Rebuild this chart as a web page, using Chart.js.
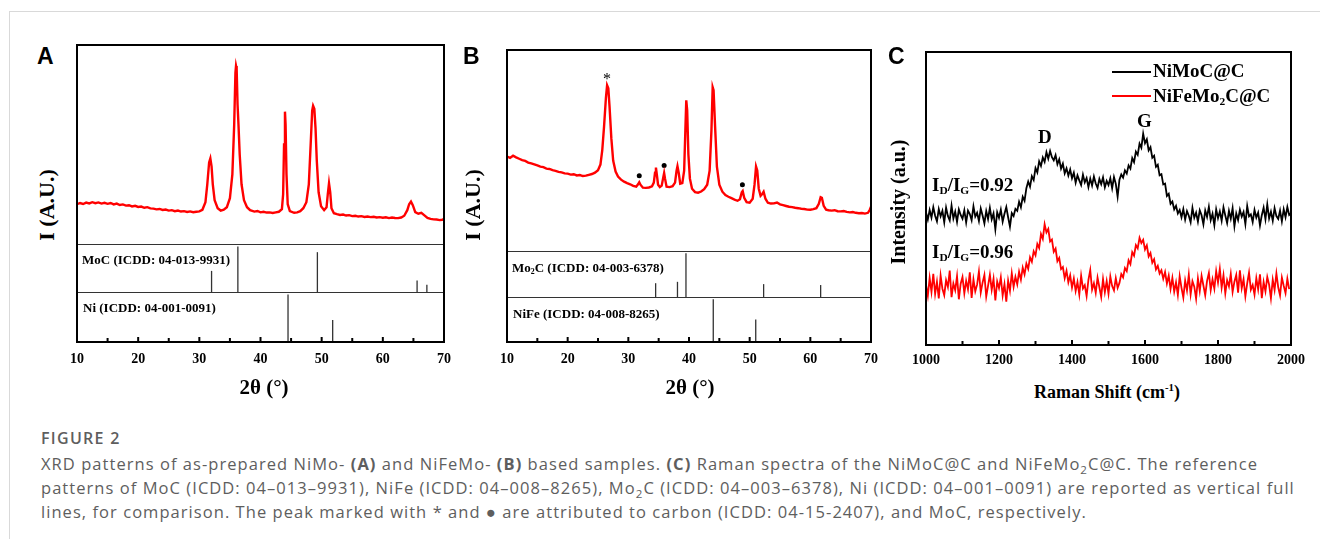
<!DOCTYPE html>
<html>
<head>
<meta charset="utf-8">
<script src="https://cdn.jsdelivr.net/npm/chart.js@4.4.0/dist/chart.umd.min.js"></script>
<style>
  body { margin: 0; background: #fff; }
  #page { position: relative; width: 1320px; height: 539px; overflow: hidden; background: #fff; }
  #page canvas { position: absolute; }
  .frameTop { position: absolute; left: 10px; top: 11px; width: 1310px; height: 1px; background: #d9d9d9; }
  .frameLeft { position: absolute; left: 9px; top: 11px; width: 1px; height: 528px; background: #d9d9d9; }
  .t { position: absolute; white-space: nowrap; line-height: 1; font-family: "Liberation Serif", "Times New Roman", serif; font-weight: bold; color: #000; }
  .letter { position: absolute; line-height: 1; font-family: "Liberation Sans", Arial, sans-serif; font-weight: bold; font-size: 23px; }
  .cx { transform: translateX(-50%); }
  .rot { transform: translate(-50%, -50%) rotate(-90deg); }
  .t sub { font-size: 0.6em; vertical-align: -0.3em; line-height: 0; }
  .legline { position: absolute; height: 2px; width: 39px; }
  #caption { position: absolute; left: 41px; top: 428px; font-family: "Open Sans", sans-serif; color: #5e5e5e; }
  #caption .head { font-size: 16px; font-weight: 600; letter-spacing: 1.3px; line-height: 20px; }
  #caption .body { font-size: 16.5px; letter-spacing: 1.05px; line-height: 24px; margin-top: 4px; white-space: nowrap; }
  #caption sub { font-size: 0.7em; line-height: 0; }
</style>
</head>
<body>
<div id="page">
  <div class="frameTop"></div>
  <div class="frameLeft"></div>

  <canvas id="chartA" width="400" height="340" style="left:60px;top:40px"></canvas>
  <canvas id="chartB" width="430" height="340" style="left:450px;top:40px"></canvas>
  <canvas id="chartC" width="440" height="340" style="left:880px;top:40px"></canvas>

  <!-- panel A texts -->
  <div class="letter" style="left:37px;top:45px">A</div>
  <div class="t rot" style="left:47px;top:205px;font-size:22px">I (A.U.)</div>
  <div class="t cx" style="left:264px;top:377px;font-size:21px">2θ (°)</div>
  <div class="t" style="left:82px;top:253px;font-size:13px">MoC (ICDD: 04-013-9931)</div>
  <div class="t" style="left:83px;top:301px;font-size:13px">Ni (ICDD: 04-001-0091)</div>

  <!-- panel B texts -->
  <div class="letter" style="left:463px;top:45px">B</div>
  <div class="t rot" style="left:473px;top:205px;font-size:22px">I (A.U.)</div>
  <div class="t cx" style="left:690px;top:377px;font-size:21px">2θ (°)</div>
  <div class="t" style="left:512px;top:261px;font-size:13px">Mo<sub>2</sub>C (ICDD: 04-003-6378)</div>
  <div class="t" style="left:513px;top:307px;font-size:13px">NiFe (ICDD: 04-008-8265)</div>
  <div class="t cx" style="left:607px;top:71px;font-size:16px;font-weight:normal">*</div>

  <!-- panel C texts -->
  <div class="letter" style="left:888px;top:45px">C</div>
  <div class="t rot" style="left:898px;top:202px;font-size:20px">Intensity (a.u.)</div>
  <div class="t cx" style="left:1107px;top:382px;font-size:18px">Raman Shift (cm<sup style="font-size:0.6em">-1</sup>)</div>
  <div class="legline" style="left:1112px;top:71px;background:#000"></div>
  <div class="t" style="left:1153px;top:61px;font-size:19px">NiMoC@C</div>
  <div class="legline" style="left:1112px;top:95px;background:#ff0000"></div>
  <div class="t" style="left:1153px;top:86px;font-size:19px">NiFeMo<sub>2</sub>C@C</div>
  <div class="t" style="left:1038px;top:127px;font-size:19px">D</div>
  <div class="t" style="left:1137px;top:111px;font-size:19px">G</div>
  <div class="t" style="left:932px;top:175px;font-size:19px">I<sub>D</sub>/I<sub>G</sub>=0.92</div>
  <div class="t" style="left:932px;top:242px;font-size:19px">I<sub>D</sub>/I<sub>G</sub>=0.96</div>

  <div id="caption">
    <div class="head">FIGURE 2</div>
    <div class="body">XRD patterns of as-prepared NiMo- <b>(A)</b> and NiFeMo- <b>(B)</b> based samples. <b>(C)</b> Raman spectra of the NiMoC@C and NiFeMo<sub>2</sub>C@C. The reference<br>patterns of MoC (ICDD: 04–013–9931), NiFe (ICDD: 04–008–8265), Mo<sub>2</sub>C (ICDD: 04–003–6378), Ni (ICDD: 04–001–0091) are reported as vertical full<br>lines, for comparison. The peak marked with * and ● are attributed to carbon (ICDD: 04-15-2407), and MoC, respectively.</div>
  </div>
</div>

<script>
// ---------- panel A: NiMo XRD ----------
const aTheta = [10, 10.5, 11, 11.5, 12, 12.5, 13, 13.5, 14, 14.5, 15, 15.5, 16, 16.5, 17, 17.5, 18, 18.5, 19, 19.5,
  20, 20.5, 21, 21.5, 22, 22.5, 23, 23.5, 24, 24.5, 25, 25.5, 26, 26.5, 27, 27.5, 28, 28.5, 29, 29.5,
  30, 30.5, 31, 31.3, 31.6, 31.8, 32.0, 32.2, 32.5, 33, 33.5, 34, 34.5, 35, 35.4, 35.7, 35.9, 36.0, 36.1, 36.25,
  36.4, 36.6, 36.9, 37.3, 37.8, 38.3, 39, 39.5, 40, 40.5, 41, 41.5, 42, 42.5, 43, 43.5, 43.7, 43.85, 44.0, 44.1,
  44.25, 44.45, 44.8, 45.5, 46, 46.5, 47, 47.5, 47.9, 48.2, 48.45, 48.6, 48.8, 49.0, 49.2, 49.5, 49.9, 50.4, 50.8, 51.0,
  51.2, 51.4, 51.6, 52, 52.5, 53, 53.5, 54, 54.5, 55, 55.5, 56, 56.5, 57, 57.5, 58, 58.5, 59, 59.5, 60,
  60.5, 61, 61.5, 62, 62.5, 63, 63.5, 64, 64.3, 64.6, 64.9, 65.3, 65.8, 66.3, 66.8, 67.3, 67.8, 68.3, 68.8, 69.3,
  69.7, 70];
const aIntensity = [20.0, 20.6, 20.1, 20.8, 20.4, 21.0, 20.5, 20.9, 20.3, 20.7, 20.2, 20.6, 19.9, 20.3, 19.6, 19.9, 19.3, 19.5, 18.9, 19.2,
  18.6, 18.8, 18.2, 18.5, 17.9, 17.8, 17.4, 17.6, 17.1, 17.3, 16.8, 17.0, 16.5, 16.8, 16.3, 16.5, 16.1, 16.4, 16.0, 16.2,
  16.4, 17.2, 21, 30, 41, 43, 39, 30, 22, 18, 16.8, 17.2, 18.5, 23, 35, 60, 86, 89.5, 88, 70,
  60, 45, 30, 22, 18.5, 17, 16.3, 16.6, 15.9, 16.2, 15.8, 15.9, 15.6, 15.9, 16.2, 17.5, 25, 50, 66.5, 60,
  35, 20, 16.5, 15.7, 15.9, 16.5, 18, 21, 30, 50, 67, 69.5, 68, 58, 42, 26, 19, 17, 18.5, 25,
  30.5, 26, 18, 15.5, 15.0, 14.6, 14.8, 14.3, 14.5, 14.0, 14.2, 13.8, 14.0, 13.6, 13.8, 13.5, 13.7, 13.3, 13.5, 13.2,
  13.4, 13.0, 13.3, 13.1, 13.0, 13.3, 14.2, 17.0, 20.0, 21.3, 19.5, 16.0, 15.2, 15.7, 14.4, 13.1, 12.6, 12.4, 12.3, 12.0,
  12.2, 12.5];
// reference patterns (position, relative height)
const mocPos = [32.0, 36.3, 49.3, 65.6, 67.2];
const mocHeight = [0.44, 0.95, 0.83, 0.24, 0.15];
const niPos = [44.5, 51.8];
const niHeight = [0.95, 0.44];

// ---------- panel B: NiFeMo XRD ----------
const bTheta = [10, 10.5, 11, 11.5, 12, 12.5, 13, 13.5, 14, 14.5, 15, 15.5, 16, 16.5, 17, 17.5, 18, 18.5, 19, 19.5,
  20, 20.5, 21, 21.5, 22, 22.5, 23, 23.5, 24, 24.5, 25, 25.4, 25.7, 26.0, 26.3, 26.5, 26.7, 26.9, 27.2, 27.5,
  27.9, 28.3, 28.8, 29.3, 29.8, 30.3, 30.8, 31.3, 31.6, 31.8, 32.0, 32.4, 32.9, 33.4, 33.9, 34.2, 34.4, 34.55, 34.7, 34.9,
  35.2, 35.5, 35.75, 35.9, 36.05, 36.3, 36.8, 37.3, 37.7, 37.95, 38.1, 38.3, 38.55, 38.9, 39.2, 39.4, 39.55, 39.7, 39.9, 40.15,
  40.5, 41, 41.5, 42, 42.5, 43, 43.4, 43.7, 43.9, 44.05, 44.3, 44.6, 45, 45.5, 46, 46.5, 47, 47.5, 48, 48.4,
  48.7, 48.85, 49.1, 49.5, 50, 50.5, 50.8, 51.05, 51.25, 51.5, 51.8, 52.1, 52.3, 52.6, 53, 53.5, 54, 54.5, 55, 55.5,
  56, 56.5, 57, 57.5, 58, 58.5, 59, 59.5, 60, 60.5, 61, 61.4, 61.7, 61.9, 62.2, 62.6, 63, 63.5, 64, 64.5,
  65, 65.5, 66, 66.5, 67, 67.5, 68, 68.5, 69, 69.5, 69.8, 70];
const bIntensity = [47.0, 46.3, 47.4, 46.6, 45.9, 45.2, 44.8, 44.0, 43.6, 43.1, 42.6, 42.0, 41.7, 41.0, 40.8, 40.2, 39.9, 39.4, 39.1, 38.6,
  38.5, 38.0, 38.2, 37.6, 37.8, 37.3, 37.5, 37.9, 38.3, 39.0, 40.2, 43, 50, 62, 76, 82.5, 81, 72, 56, 45,
  39.5, 37, 35.5, 34.5, 33.8, 33.2, 32.4, 32.0, 33.2, 34.2, 33.0, 31.5, 31.4, 31.6, 32.2, 34, 39, 41.5, 38, 33,
  31.8, 32.5, 36.5, 38.8, 36, 32.0, 31.8, 32.2, 34, 40, 42.2, 39, 33.5, 33.8, 40, 60, 75, 70, 48, 36,
  31, 29.3, 29.0, 29.6, 30.8, 33, 40, 60, 81.5, 80, 62, 42, 33, 29.5, 27.8, 27.0, 26.3, 25.6, 25.0, 25.8,
  29.2, 29.8, 26.5, 24.3, 24.0, 26.0, 33, 42, 40, 31, 27.5, 28.5, 29.5, 26, 24, 23.6, 23.7, 24.1, 23.2, 22.8,
  22.4, 22.0, 21.8, 21.5, 21.3, 21.0, 20.9, 20.6, 20.5, 20.8, 21.3, 23.5, 26.8, 26.5, 22.5, 20.6, 20.3, 20.1, 20.3, 19.8,
  19.7, 19.9, 19.5, 19.2, 19.4, 19.0, 18.8, 18.9, 18.6, 19.0, 20.5, 22.0];
// MoC peaks marked with a dot
const dotTheta = [31.8, 35.9, 48.8];
const dotIntensity = [37.5, 42.5, 33.0];
const mo2cPos = [34.5, 38.1, 39.5, 52.3, 61.7];
const mo2cHeight = [0.30, 0.33, 0.95, 0.28, 0.26];
const nifePos = [44.0, 51.0];
const nifeHeight = [0.95, 0.50];

// ---------- panel C: Raman ----------
const ramanStart = 1000;
const ramanStep = 5;
const nimocRaman = [
  45.2, 42.8, 46.1, 43.5, 47.0, 44.1, 42.2, 46.4, 43.9, 45.8,
  41.9, 46.9, 44.0, 42.5, 47.6, 43.2, 45.5, 42.0, 46.3, 44.4,
  43.1, 46.0, 41.8, 45.9, 44.7, 42.6, 47.3, 43.8, 45.1, 42.3,
  46.6, 44.2, 41.5, 45.7, 43.0, 46.8, 42.9, 44.9, 39.5, 45.3,
  43.4, 46.2, 42.1, 44.8, 47.1, 43.6, 40.4, 45.0, 44.0, 46.5,
  45.8, 48.9, 47.0, 50.6, 49.2, 53.5, 55.8, 54.0, 57.6, 56.3,
  60.4, 58.9, 62.7, 61.1, 64.0, 62.5, 65.8, 63.6, 66.2, 64.1,
  63.0, 64.8, 61.7, 63.4, 60.2, 61.9, 58.6, 60.3, 57.8, 59.9,
  56.9, 58.8, 55.4, 57.9, 56.2, 54.6, 58.1, 55.5, 57.0, 53.9,
  56.8, 54.4, 57.5, 55.1, 53.6, 56.7, 54.9, 57.2, 53.8, 56.0,
  54.6, 56.9, 53.5, 57.3, 55.0, 50.6, 56.4, 58.2, 57.1, 59.6,
  58.5, 61.3, 60.2, 63.8, 62.4, 66.0, 64.9, 68.7, 67.3, 72.1,
  68.9, 70.2, 66.4, 67.5, 63.9, 64.6, 60.8, 61.5, 57.9, 58.3,
  54.8, 55.1, 50.9, 51.6, 48.2, 49.0, 46.3, 47.5, 44.9, 46.1,
  43.6, 46.4, 42.8, 45.7, 44.1, 41.9, 46.8, 43.4, 45.2, 42.1,
  46.0, 44.3, 41.2, 45.9, 43.7, 47.2, 42.6, 44.8, 40.9, 46.3,
  43.3, 45.6, 42.4, 47.0, 44.2, 41.6, 45.8, 43.1, 46.7, 40.5,
  44.9, 42.7, 46.2, 43.8, 45.4, 41.3, 47.4, 43.9, 44.6, 42.0,
  46.1, 43.5, 45.2, 40.8, 44.3, 46.9, 42.9, 48.0, 43.2, 45.5,
  42.4, 46.7, 44.0, 43.0, 45.9, 42.2, 46.3, 43.6, 47.1, 44.4,
  45.0];
const nifemoRaman = [
  20.5, 16.8, 22.9, 18.1, 24.3, 17.4, 21.6, 15.9, 23.7, 19.2,
  17.0, 22.1, 19.8, 25.4, 16.3, 21.0, 18.7, 23.5, 15.6, 20.9,
  23.2, 17.6, 21.9, 19.0, 24.8, 16.1, 22.4, 18.3, 20.6, 25.1,
  17.9, 21.3, 23.9, 16.5, 20.2, 24.0, 18.8, 22.6, 15.2, 21.7,
  19.4, 23.1, 16.9, 20.8, 14.8, 22.0, 18.5, 24.5, 19.9, 23.3,
  20.7, 25.0, 22.3, 26.4, 24.1, 27.8, 26.0, 29.9, 28.4, 32.0,
  30.6, 34.5, 33.1, 37.9, 36.2, 41.2, 38.4, 39.6, 35.3, 36.0,
  31.8, 32.9, 28.6, 29.7, 25.9, 26.6, 22.8, 25.3, 21.4, 23.8,
  19.6, 22.7, 18.4, 21.5, 17.2, 23.6, 19.3, 20.4, 16.7, 22.2,
  25.6, 18.9, 21.1, 17.8, 23.0, 19.7, 16.4, 22.5, 18.0, 21.8,
  17.5, 23.4, 20.1, 18.6, 22.8, 19.5, 21.2, 24.2, 23.1, 26.3,
  25.2, 28.9, 27.6, 31.7, 30.5, 34.1, 33.0, 36.6, 34.8, 35.9,
  32.6, 34.0, 30.2, 31.4, 28.1, 29.3, 25.8, 27.0, 24.4, 25.5,
  22.6, 24.9, 21.0, 23.7, 19.1, 22.9, 18.2, 21.4, 17.1, 23.5,
  19.5, 16.2, 22.0, 18.6, 24.0, 17.3, 21.8, 19.9, 15.8, 22.7,
  18.4, 23.6, 20.3, 17.0, 21.9, 24.6, 18.7, 22.4, 19.2, 25.2,
  21.3, 26.0, 19.6, 23.8, 17.6, 22.1, 20.0, 24.3, 18.1, 21.6,
  23.9, 17.9, 25.5, 19.4, 22.5, 16.6, 21.0, 24.7, 18.9, 20.5,
  17.2, 22.8, 19.0, 24.1, 16.0, 21.5, 18.3, 23.2, 20.6, 15.9,
  22.3, 18.8, 24.4, 19.7, 16.9, 23.0, 20.2, 17.7, 22.6, 19.1];

const tickFont = { family: "'Liberation Serif', 'Times New Roman', serif", weight: "bold", size: 14 };

// draws the box round the plot, the dividers between stacked sections and inward ticks
const framePlugin = {
  id: "frame",
  afterDraw(chart, args, opts) {
    const { ctx, chartArea } = chart;
    const x = chart.scales.x;
    ctx.save();
    ctx.strokeStyle = "#333";
    ctx.lineWidth = 1;
    (opts.dividers || []).forEach((id) => {
      const y = Math.round(chart.scales[id].top) + 0.5;
      ctx.beginPath();
      ctx.moveTo(chartArea.left, y);
      ctx.lineTo(chartArea.right, y);
      ctx.stroke();
    });
    ctx.strokeStyle = "#000";
    ctx.lineWidth = 2;
    ctx.strokeRect(chartArea.left, chartArea.top, chartArea.right - chartArea.left, chartArea.bottom - chartArea.top);
    x.ticks.forEach((t) => {
      const px = x.getPixelForValue(t.value);
      const len = t.value % opts.major === 0 ? 5 : 4;
      ctx.beginPath();
      ctx.moveTo(px, chartArea.bottom);
      ctx.lineTo(px, chartArea.bottom - len);
      ctx.stroke();
    });
    ctx.restore();
  },
};

const hiddenY = (extra) => Object.assign({
  axis: "y",
  position: "left",
  display: true,
  ticks: { display: false },
  grid: { display: false },
  border: { display: false },
  afterFit: (s) => { s.width = 0; },
}, extra);

const xAxis = (min, max, step, major, labelPad) => ({
  type: "linear",
  min: min,
  max: max,
  ticks: {
    stepSize: step,
    autoSkip: false,
    maxRotation: 0,
    padding: labelPad,
    color: "#000",
    font: tickFont,
    callback: (v) => (v % major === 0 ? v : ""),
  },
  grid: { display: false },
  border: { display: false },
  afterFit: (s) => { s.height = 30; },
});

const pairs = (xs, ys) => xs.map((v, i) => ({ x: v, y: ys[i] }));

// one thin vertical line per reference reflection
const sticks = (pos, heights, axisId) => pos.map((p, i) => ({
  type: "line",
  data: [{ x: p, y: 0 }, { x: p, y: heights[i] }],
  yAxisID: axisId,
  borderColor: "#333",
  borderWidth: 1.3,
  pointRadius: 0,
}));

const baseOptions = (padding) => ({
  responsive: false,
  animation: false,
  devicePixelRatio: 1,
  layout: { padding: padding },
  plugins: { legend: { display: false }, tooltip: { enabled: false } },
});

const xrdChart = (canvasId, theta, intensity, refs, weights, padding, extraSets) => {
  const options = baseOptions(padding);
  options.plugins.frame = { dividers: ["yPhase1", "yPhase2"], major: 10 };
  options.scales = {
    x: xAxis(10, 70, 5, 10, 1),
    yPhase2: hiddenY({ min: 0, max: 1, stack: "xrd", stackWeight: weights[2], weight: 1 }),
    yPhase1: hiddenY({ min: 0, max: 1, stack: "xrd", stackWeight: weights[1], weight: 2 }),
    y: hiddenY({ min: 0, max: 100, stack: "xrd", stackWeight: weights[0], weight: 3 }),
  };
  const datasets = [
    {
      type: "line",
      data: pairs(theta, intensity),
      yAxisID: "y",
      borderColor: "#ff0000",
      borderWidth: 2.4,
      pointRadius: 0,
      tension: 0,
    },
  ]
    .concat(sticks(refs[0], refs[1], "yPhase1"))
    .concat(sticks(refs[2], refs[3], "yPhase2"))
    .concat(extraSets || []);
  return new Chart(document.getElementById(canvasId), {
    type: "line",
    data: { datasets: datasets },
    options: options,
    plugins: [framePlugin],
  });
};

xrdChart("chartA", aTheta, aIntensity, [mocPos, mocHeight, niPos, niHeight], [199, 48, 50],
  { left: 17, top: 5, right: 16, bottom: 8 });

xrdChart("chartB", bTheta, bIntensity, [mo2cPos, mo2cHeight, nifePos, nifeHeight], [201, 46, 45],
  { left: 57, top: 10, right: 9, bottom: 8 },
  [{
    type: "line",
    data: pairs(dotTheta, dotIntensity),
    yAxisID: "y",
    showLine: false,
    pointRadius: 2.5,
    pointBackgroundColor: "#000",
    pointBorderWidth: 0,
  }]);

// Raman spectra
const ramanPoints = (values) => values.map((v, i) => ({ x: ramanStart + i * ramanStep, y: v }));
const optionsC = baseOptions({ left: 46, top: 12, right: 29, bottom: 5 });
optionsC.plugins.frame = { dividers: [], major: 200 };
optionsC.scales = {
  x: xAxis(1000, 2000, 100, 200, -1),
  y: hiddenY({ min: 0, max: 100 }),
};
new Chart(document.getElementById("chartC"), {
  type: "line",
  data: {
    datasets: [
      { label: "NiMoC@C", data: ramanPoints(nimocRaman), borderColor: "#000", borderWidth: 1.8, pointRadius: 0 },
      { label: "NiFeMo2C@C", data: ramanPoints(nifemoRaman), borderColor: "#ff0000", borderWidth: 1.8, pointRadius: 0 },
    ],
  },
  options: optionsC,
  plugins: [framePlugin],
});
</script>
</body>
</html>
